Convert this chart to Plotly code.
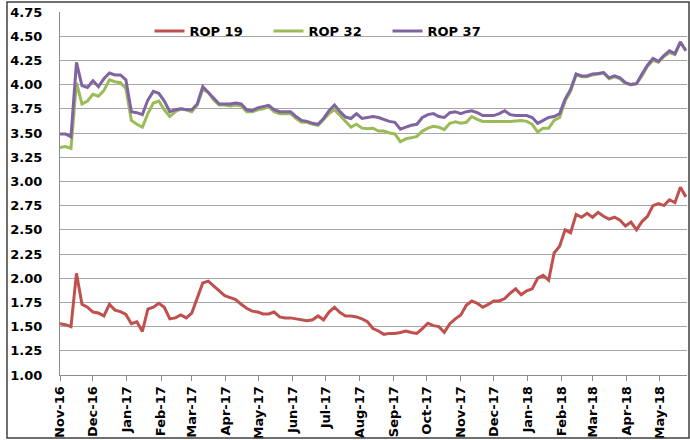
import pandas as pd
import plotly.graph_objects as go

# sampling dates (every 5 days from 1 Nov 2016)
dates = pd.date_range("2016-11-01", periods=115, freq="5D")

rop19 = [
    1.53, 1.52, 1.50, 2.05, 1.73, 1.70, 1.65, 1.64, 1.61, 1.73,
    1.67, 1.655, 1.625, 1.53, 1.55, 1.45, 1.68, 1.70, 1.74, 1.70,
    1.58, 1.59, 1.62, 1.59, 1.64, 1.80, 1.95, 1.97, 1.92, 1.86,
    1.82, 1.80, 1.78, 1.73, 1.69, 1.66, 1.65, 1.63, 1.63, 1.65,
    1.60, 1.59, 1.59, 1.58, 1.57, 1.56, 1.57, 1.61, 1.57, 1.65,
    1.70, 1.645, 1.61, 1.61, 1.60, 1.58, 1.55, 1.48, 1.455, 1.42,
    1.43, 1.43, 1.44, 1.455, 1.44, 1.43, 1.48, 1.535, 1.51, 1.50,
    1.44, 1.53, 1.58, 1.62, 1.72, 1.765, 1.74, 1.70, 1.73, 1.765,
    1.765, 1.79, 1.845, 1.89, 1.83, 1.87, 1.89, 2.00, 2.03, 1.98,
    2.26, 2.33, 2.50, 2.47, 2.66, 2.63, 2.67, 2.63, 2.68, 2.64,
    2.61, 2.63, 2.60, 2.54, 2.58, 2.50, 2.585, 2.64, 2.75, 2.77,
    2.75, 2.81, 2.78, 2.94, 2.84,
]

rop32 = [
    3.35, 3.36, 3.34, 4.02, 3.80, 3.83, 3.90, 3.88, 3.94, 4.05,
    4.03, 4.02, 3.96, 3.63, 3.59, 3.56, 3.70, 3.81, 3.83, 3.74,
    3.67, 3.72, 3.75, 3.74, 3.72, 3.79, 3.95, 3.92, 3.84, 3.79,
    3.79, 3.78, 3.79, 3.78, 3.72, 3.72, 3.74, 3.75, 3.77, 3.72,
    3.70, 3.70, 3.70, 3.65, 3.61, 3.61, 3.59, 3.58, 3.64, 3.70,
    3.74, 3.68, 3.61, 3.56, 3.59, 3.55, 3.545, 3.55, 3.52, 3.52,
    3.50, 3.49, 3.41, 3.44, 3.45, 3.465, 3.52, 3.55, 3.57, 3.56,
    3.535, 3.60, 3.615, 3.60, 3.61, 3.67, 3.64, 3.62, 3.62, 3.62,
    3.62, 3.615, 3.62, 3.625, 3.63, 3.62, 3.59, 3.51, 3.55, 3.55,
    3.63, 3.66, 3.83, 3.93, 4.10, 4.08, 4.08, 4.10, 4.11, 4.12,
    4.06, 4.08, 4.06, 4.01, 4.00, 4.01, 4.09, 4.19, 4.25, 4.23,
    4.29, 4.33, 4.31, 4.44, 4.35,
]

rop37 = [
    3.49, 3.49, 3.46, 4.23, 3.99, 3.97, 4.04, 3.98, 4.06, 4.12,
    4.10, 4.10, 4.05, 3.72, 3.71, 3.69, 3.84, 3.93, 3.91, 3.83,
    3.72, 3.74, 3.75, 3.74, 3.74, 3.80, 3.98, 3.92, 3.85, 3.80,
    3.80, 3.80, 3.81, 3.80, 3.74, 3.73, 3.76, 3.77, 3.785, 3.74,
    3.72, 3.72, 3.72, 3.67, 3.63, 3.62, 3.60, 3.59, 3.65, 3.73,
    3.79, 3.72, 3.665, 3.65, 3.70, 3.65, 3.66, 3.67, 3.66, 3.64,
    3.62, 3.61, 3.54, 3.56, 3.58, 3.59, 3.66, 3.69, 3.70, 3.67,
    3.66, 3.71, 3.72, 3.70, 3.72, 3.73, 3.71, 3.68, 3.68, 3.68,
    3.70, 3.73, 3.69, 3.68, 3.68, 3.68, 3.66, 3.60, 3.63, 3.66,
    3.67, 3.70, 3.85, 3.95, 4.11, 4.09, 4.09, 4.11, 4.115, 4.125,
    4.07, 4.09, 4.07, 4.02, 4.00, 4.01, 4.11, 4.20, 4.27, 4.24,
    4.30, 4.35, 4.32, 4.44, 4.35,
]

series_names = ["ROP 19", "ROP 32", "ROP 37"]
series_colors = ["#C0504D", "#9BBB59", "#8064A2"]

FONT = "DejaVu Sans"

fig = go.Figure()
for name, vals, col in zip(series_names, [rop19, rop32, rop37], series_colors):
    fig.add_trace(go.Scatter(
        x=dates, y=vals, name=name, mode="lines",
        line=dict(color=col, width=3),
    ))

L, R, T, B = 60, 3, 12, 65
W, H = 690, 440
pw, ph = W - L - R, H - T - B

fig.update_layout(
    width=W, height=H,
    margin=dict(l=L, r=R, t=T, b=B, autoexpand=False),
    paper_bgcolor="white", plot_bgcolor="white",
    font=dict(family=FONT, size=13, color="#000000", weight="bold"),
    showlegend=True,
    legend=dict(
        orientation="h",
        x=(328 - L) / pw, xanchor="center",
        y=(H - B - 31) / ph, yanchor="middle",
        bgcolor="rgba(0,0,0,0)",
        font=dict(family=FONT, size=13, color="#000000", weight="bold"),
        entrywidth=74, entrywidthmode="pixels",
        tracegroupgap=0,
    ),
    xaxis=dict(
        type="date",
        automargin=False,
        range=["2016-11-01", "2018-05-26"],
        tick0="2016-11-01", dtick="M1",
        tickformat="%b-%y",
        tickangle=-90,
        ticks="outside", ticklen=5, tickcolor="#8c8c8c", tickwidth=1,
        showgrid=False,
        showline=True, linecolor="#8c8c8c", linewidth=1,
        tickfont=dict(family=FONT, size=13, color="#000000", weight="bold"),
        zeroline=False,
    ),
    yaxis=dict(
        automargin=False,
        range=[1.0, 4.75],
        tick0=1.0, dtick=0.25,
        tickformat=".2f",
        showgrid=True, gridcolor="#a6a6a6", gridwidth=1,
        showline=True, linecolor="#8c8c8c", linewidth=1,
        ticks="", ticklabelstandoff=14,
        tickfont=dict(family=FONT, size=13, color="#000000", weight="bold"),
        zeroline=False,
    ),
    shapes=[dict(
        type="rect", xref="paper", yref="paper",
        x0=(7 - L) / pw, x1=(689 - L) / pw,
        y0=(H - B - 438) / ph, y1=(H - B - 2) / ph,
        line=dict(color="#404040", width=1.5),
        fillcolor="rgba(0,0,0,0)", layer="above",
    )],
)

fig.write_html(
    "out.html",
    config={"displayModeBar": False},
    post_script="document.body.style.margin='0';document.body.style.overflow='hidden';",
)
